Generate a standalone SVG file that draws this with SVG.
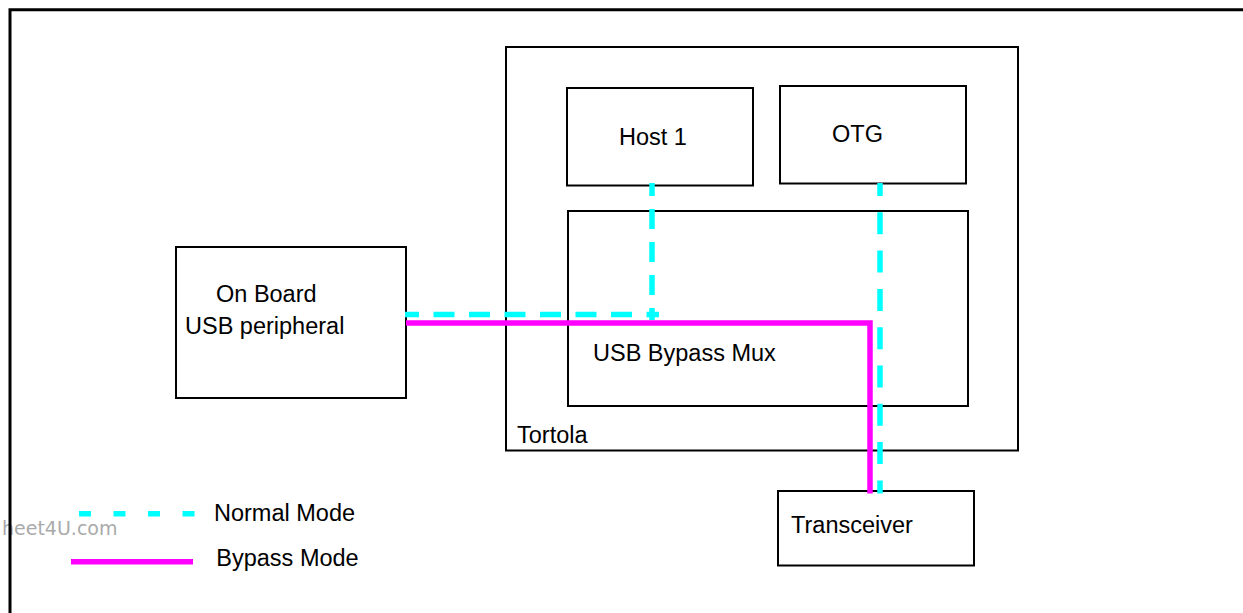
<svg xmlns="http://www.w3.org/2000/svg" width="1243" height="613" viewBox="0 0 1243 613">
<style>
  .box { fill: #fff; stroke: #000; stroke-width: 2; }
  .lbl { font-family: "Liberation Sans", Arial, Helvetica, sans-serif; font-size: 23.5px; fill: #000; }
  .normal { fill: none; stroke: #00ffff; stroke-width: 5.5; }
  .bypass { fill: none; stroke: #ff00ff; stroke-width: 5.5; stroke-linejoin: miter; }
  .wm { font-family: "DejaVu Sans", "Liberation Sans", sans-serif; font-size: 19px; fill: #aaaaaa; }
</style>
<rect width="1243" height="613" fill="#fff"/>
<text class="wm" x="2" y="535">heet4U.com</text>
<path d="M10,613 V9.7 H1243" fill="none" stroke="#000" stroke-width="3"/>

<g id="tortola">
  <rect class="box" x="506" y="47" width="512" height="403.5"/>
  <text class="lbl" x="517" y="443.3">Tortola</text>
</g>
<g id="host1">
  <rect class="box" x="567" y="88" width="186" height="97.5"/>
  <text class="lbl" x="619" y="145">Host 1</text>
</g>
<g id="otg">
  <rect class="box" x="780" y="86" width="186" height="97.5"/>
  <text class="lbl" x="832" y="142">OTG</text>
</g>
<g id="mux">
  <rect class="box" x="568" y="211" width="400" height="195"/>
  <text class="lbl" x="593" y="360.7">USB Bypass Mux</text>
</g>
<g id="onboard">
  <rect class="box" x="176" y="247" width="230" height="151"/>
  <text class="lbl" x="216" y="302">On Board</text>
  <text class="lbl" x="185" y="334">USB peripheral</text>
</g>
<g id="transceiver">
  <rect class="box" x="778" y="491" width="196" height="74.5"/>
  <text class="lbl" x="791" y="533.3">Transceiver</text>
</g>

<g id="connectors">
  <line class="normal" x1="405" y1="314.5" x2="659" y2="314.5" stroke-dasharray="21 14.5" stroke-dashoffset="7"/>
  <line class="normal" x1="652" y1="183" x2="652" y2="320" stroke-dasharray="20 13" stroke-dashoffset="7"/>
  <line class="normal" x1="880" y1="183" x2="880" y2="493.5" stroke-dasharray="22 16.3" stroke-dashoffset="9"/>
  <path class="bypass" d="M406,323 H870 V493.5"/>
</g>

<g id="legend">
  <line class="normal" x1="79" y1="513.7" x2="195" y2="513.7" stroke-dasharray="12 22.5"/>
  <text class="lbl" x="214" y="521">Normal Mode</text>
  <line class="bypass" x1="71" y1="561.7" x2="193" y2="561.7"/>
  <text class="lbl" x="216.3" y="566">Bypass Mode</text>
</g>
</svg>
